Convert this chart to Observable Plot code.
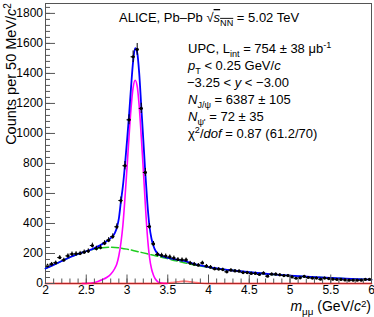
<!DOCTYPE html>
<html><head><meta charset="utf-8">
<script src="https://cdn.jsdelivr.net/npm/d3@7"></script>
<script src="https://cdn.jsdelivr.net/npm/@observablehq/plot@0.6"></script>
<style>body{margin:0;background:#fff}#chart{width:374px;height:317px}</style>
</head><body><div id="chart"></div>
<script>
// Histogram binning (GeV/c^2) and counts per 50 MeV/c^2
const binStart = 2, binWidth = 0.05;
const counts = [118,129,138,173,156,184,196,198,200,209,
                216,253,233,240,269,289,313,378,553,785,
                1091,1511,1560,1167,740,380,264,194,188,183,
                177,170,160,158,157,136,129,122,137,116,
                109,98,96,93,78,89,84,82,73,73,
                67,67,60,69,49,62,62,58,53,53,
                44,35,38,47,40,36,36,29,36,33,
                29,27,27,24,22,22,22,22,27,27];

// Background (green dashed)
const bkgMass = [2.0,2.1,2.2,2.3,2.4,2.5,2.6,2.7,2.8,2.9,3.0,3.1,3.2,3.3,3.4,3.5,3.6,3.7,3.8,3.9,4.0,4.25,4.5,4.75,5.0,5.25,5.5,5.75,6.0];
const bkgVal  = [100,124,150,175,197,214,229,238,241,238,229,217,204,191,178,165,151,139,127,117,108,90,75,62,52,44,37,31,26];

// J/psi signal (magenta)
const jpsiMass = [2.45,2.5,2.55,2.6,2.65,2.7,2.75,2.8,2.85,2.875,2.9,2.925,2.95,2.975,3.0,3.025,3.05,3.075,3.1,3.125,3.15,3.175,3.2,3.225,3.25,3.275,3.3,3.325,3.35,3.375,3.4,3.45,3.5];
const jpsiVal  = [0,1,2,7,15,26,40,62,100,130,185,270,390,570,770,980,1170,1305,1355,1315,1180,980,760,525,320,180,100,55,28,13,5,1,0];

// psi(2S) signal (red)
const psiMass = [2.0,3.4,3.5,3.55,3.6,3.65,3.7,3.75,3.8,3.85,3.9,4.0,6.0];
const psiVal  = [0,0,2,5,9,13,15,13,9,5,2,0,0];

// Total fit (blue)
const totMass = [2.0,2.1,2.2,2.3,2.4,2.5,2.55,2.6,2.65,2.7,2.75,2.8,2.85,2.875,2.9,2.925,2.95,2.975,3.0,3.025,3.05,3.075,3.1,3.125,3.15,3.175,3.2,3.225,3.25,3.275,3.3,3.325,3.35,3.375,3.4,3.45,3.5,3.6,3.7,3.8,3.9,4.0,4.25,4.5,4.75,5.0,5.25,5.5,5.75,6.0];
const totVal  = [100,124,150,175,197,215,224,236,249,264,281,302,336,372,432,545,650,790,950,1120,1310,1480,1568,1540,1400,1180,960,735,535,385,300,250,218,200,190,179,171,160,150,134,120,109,90,75,62,52,44,37,31,26];

const xTicks = [2,2.5,3,3.5,4,4.5,5,5.5,6];
const yTicks = [0,200,400,600,800,1000,1200,1400,1600,1800];
const xMinor = d3.range(20, 61).map(i => i / 10);
const yMinor = d3.range(0, 1866, 40);

const hist = counts.map((c, i) => ({m: binStart + binWidth * (i + 0.5), c, e: Math.sqrt(c)}));
const pts = (ms, vs) => ms.map((m, i) => ({m, v: vs[i]}));
const axisColor = "#555";

const svg = Plot.plot({
  width: 374, height: 317,
  marginLeft: 45, marginRight: 3, marginTop: 3, marginBottom: 34,
  style: {fontFamily: "'Liberation Sans', Arial, sans-serif", fontSize: "12px", color: "black", background: "white"},
  x: {domain: [2, 6]},
  y: {domain: [0, 1866]},
  marks: [
    Plot.frame({stroke: axisColor}),
    Plot.line(pts(bkgMass, bkgVal), {x: "m", y: "v", stroke: "#1fcc1f", strokeWidth: 1.5, strokeDasharray: "7,3", curve: "monotone-x"}),
    Plot.line(pts(jpsiMass, jpsiVal), {x: "m", y: "v", stroke: "#ff00ff", strokeWidth: 1.6, curve: "monotone-x"}),
    Plot.line(pts(psiMass, psiVal), {x: "m", y: "v", stroke: "#ff0000", strokeWidth: 1.8, strokeOpacity: 0.55, curve: "monotone-x"}),
    Plot.line(pts(totMass, totVal), {x: "m", y: "v", stroke: "#0000ff", strokeWidth: 1.8, curve: "monotone-x"}),
    Plot.ruleX(hist, {x: "m", y1: d => d.c - d.e, y2: d => d.c + d.e, stroke: "black", strokeWidth: 1}),
    Plot.ruleY(hist, {y: "c", x1: d => d.m - binWidth / 2, x2: d => d.m + binWidth / 2, stroke: "black", strokeWidth: 1}),
    Plot.dot(hist, {x: "m", y: "c", r: 1.6, fill: "black"}),
    Plot.axisY(yTicks, {tickSize: 10, dx: 10, fill: "none", label: null, stroke: axisColor}),
    Plot.axisY(yMinor, {tickSize: 5, dx: 5, fill: "none", label: null, stroke: axisColor}),
    Plot.axisY(yTicks, {tickSize: 0, tickPadding: 2.5, label: null, fontSize: 12, tickFormat: d => String(d)}),
    Plot.axisX(xTicks, {tickSize: 8.5, dy: -8.5, fill: "none", label: null, stroke: axisColor}),
    Plot.axisX(xMinor, {tickSize: 4.5, dy: -4.5, fill: "none", label: null, stroke: axisColor}),
    Plot.axisX(xTicks, {tickSize: 0, tickPadding: 2, label: null, fontSize: 12, tickFormat: d => String(d)})
  ]
});
document.getElementById("chart").appendChild(svg);

// Rich text helper: parts = [text, style] with style flags i (italic), sub, sup, over
const S = d3.select(svg);
function rich(x, y, parts, size, opts = {}) {
  const t = S.append("text").attr("x", x).attr("y", y)
    .attr("font-family", "'Liberation Sans', Arial, sans-serif")
    .attr("font-size", size).attr("fill", "black")
    .attr("text-anchor", opts.anchor || "start");
  if (opts.transform) t.attr("transform", opts.transform);
  let shift = 0;
  const supRaise = opts.supRaise ?? 0.38;
  for (const [txt, st = ""] of parts) {
    const target = st.includes("sub") ? size * 0.3 : st.includes("sup") ? -size * supRaise : 0;
    const sp = t.append("tspan").text(txt).attr("dy", target - shift);
    shift = target;
    if (st.includes("i")) sp.attr("font-style", "italic");
    if (st.includes("sub") || st.includes("sup")) sp.attr("font-size", size * 0.7);
    if (st.includes("over")) sp.attr("text-decoration", "overline");
  }
  return t;
}

rich(119, 22, [["ALICE, Pb\u2013Pb "], ["\u221A"], ["s", "i over"], ["NN", "sub over"], [" = 5.02 TeV"]], 13);
rich(188, 53, [["UPC, L"], ["int", "sub"], [" = 754 \u00B1 38 \u03BCb"], ["-1", "sup"]], 13);
rich(188, 70, [["p", "i"], ["T", "sub"], [" < 0.25 GeV/"], ["c", "i"]], 13);
rich(187, 87, [["\u22123.25 < "], ["y", "i"], [" < \u22123.00"]], 13);
rich(188, 104, [["N", "i"], ["J/\u03C8", "sub"], [" = 6387 \u00B1 105"]], 13);
rich(188, 121, [["N", "i"], ["\u03C8'", "sub"], [" = 72 \u00B1 35"]], 13);
rich(188, 138, [["\u03C7"], ["2", "sup"], ["/"], ["dof", "i"], [" = 0.87 (61.2/70)"]], 13);

rich(0, 0, [["Counts per 50 MeV/"], ["c", "i"], ["2", "sup"]], 14.5, {transform: "translate(16,3) rotate(-90)", anchor: "end"});
rich(371, 311, [["m", "i"], ["\u03BC\u03BC", "sub"], [" (GeV/"], ["c", "i"], ["2", "sup"], [")"]], 14, {anchor: "end", supRaise: 0.3});
</script>
</body></html>
